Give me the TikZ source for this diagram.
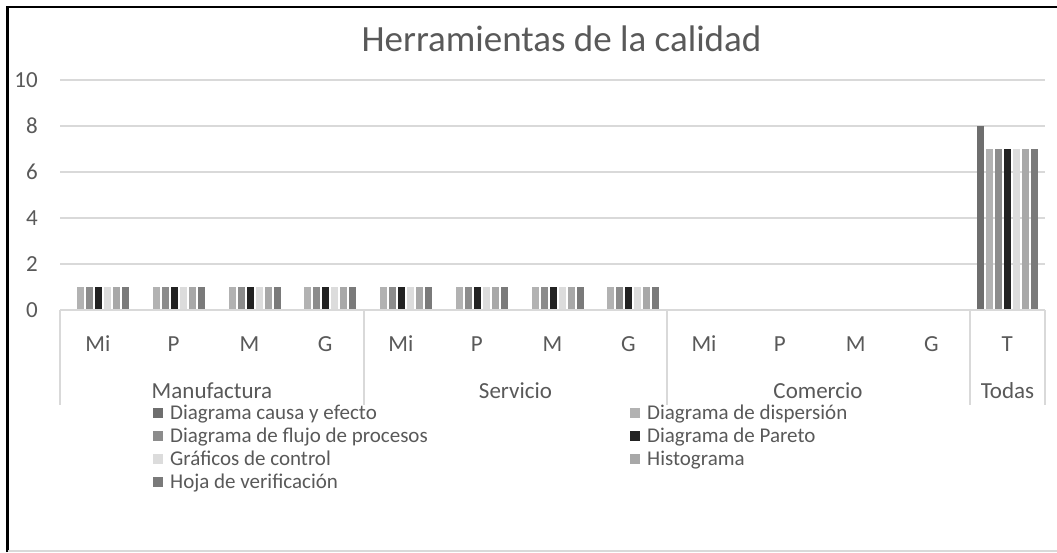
\documentclass[tikz,border=0pt]{standalone}
\usepackage{fontspec}
\setmainfont{Carlito}
\definecolor{txt}{HTML}{595959}
\definecolor{gridc}{HTML}{D9D9D9}
\definecolor{sA}{HTML}{6E6E6E}
\definecolor{sB}{HTML}{B2B2B2}
\definecolor{sC}{HTML}{8C8C8C}
\definecolor{sD}{HTML}{222222}
\definecolor{sE}{HTML}{DCDCDC}
\definecolor{sF}{HTML}{A8A8A8}
\definecolor{sG}{HTML}{7A7A7A}
\begin{document}
\begin{tikzpicture}[x=1pt,y=-1pt,
  gridline/.style={draw=gridc,line width=1.2pt},
  axlab/.style={text=txt,font=\fontsize{23}{23}\selectfont,inner sep=0pt},
  catlab/.style={text=txt,font=\fontsize{23}{23}\selectfont,inner sep=0pt},
  leglab/.style={text=txt,font=\fontsize{21}{21}\selectfont,inner sep=0pt,anchor=base west},
  legsq/.style={minimum size=10pt,inner sep=0pt,draw=none}]
\useasboundingbox (0,0) rectangle (1057,552);
\fill[white] (0,0) rectangle (1057,552);
% frame
\draw[black,line width=2.5pt] (7.5,552) -- (7.5,7) -- (1057,7);
\draw[gridc,line width=1.5pt] (7.5,551) -- (1057,551);
% title
\node[text=txt,font=\fontsize{37}{37}\selectfont,inner sep=0pt,anchor=base] (title) at (561.5,51) {Herramientas de la calidad};
% grid and y labels
\foreach \v in {2,4,6,8,10}{
  \draw[gridline] (60,{310-23*\v}) -- (1045,{310-23*\v});
}
\foreach \v in {0,2,4,6,8,10}{
  \node[axlab,anchor=east] (y\v) at (38,{310-23*\v}) {\v};
}
% bars (Manufactura and Servicio: value 1, first series 0)
\foreach \i in {0,...,7}{
  \foreach \j/\c in {1/sB,2/sC,3/sD,4/sE,5/sF,6/sG}{
    \fill[\c] ({60+\i*75.77+8+\j*9},310) rectangle ++(7,-23);
  }
}
% Todas
\fill[sA] ({60+12*75.77+8},310) rectangle ++(7,-184);
\foreach \j/\c in {1/sB,2/sC,3/sD,4/sE,5/sF,6/sG}{
  \fill[\c] ({60+12*75.77+8+\j*9},310) rectangle ++(7,-161);
}
% axis
\draw[gridline] (60,310) -- (1045,310);
\foreach \x in {60,364,667,970,1045}{
  \draw[gridline] (\x,310) -- (\x,405);
}
% category labels
\foreach \i/\t in {0/Mi,1/P,2/M,3/G,4/Mi,5/P,6/M,7/G,8/Mi,9/P,10/M,11/G,12/T}{
  \node[catlab,anchor=base] (c\i) at ({60+(\i+0.5)*75.77},351) {\t};
}
\node[catlab,anchor=base] (gManu) at (212,398) {Manufactura};
\node[catlab,anchor=base] (gServ) at (515.5,398) {Servicio};
\node[catlab,anchor=base] (gCom) at (818,398) {Comercio};
\node[catlab,anchor=base] (gTod) at (1007.5,398) {Todas};
% legend
\node[legsq,fill=sA] (qA) at (158,413) {};
\node[leglab] (lA) at (170,419) {Diagrama causa y efecto};
\node[legsq,fill=sC] (qC) at (158,436) {};
\node[leglab] (lC) at (170,442) {Diagrama de flujo de procesos};
\node[legsq,fill=sE] (qE) at (158,459) {};
\node[leglab] (lE) at (170,465) {Gráficos de control};
\node[legsq,fill=sG] (qG) at (158,482) {};
\node[leglab] (lG) at (170,488) {Hoja de verificación};
\node[legsq,fill=sB] (qB) at (635,413) {};
\node[leglab] (lB) at (647,419) {Diagrama de dispersión};
\node[legsq,fill=sD] (qD) at (635,436) {};
\node[leglab] (lD) at (647,442) {Diagrama de Pareto};
\node[legsq,fill=sF] (qF) at (635,459) {};
\node[leglab] (lF) at (647,465) {Histograma};
\end{tikzpicture}
\end{document}
